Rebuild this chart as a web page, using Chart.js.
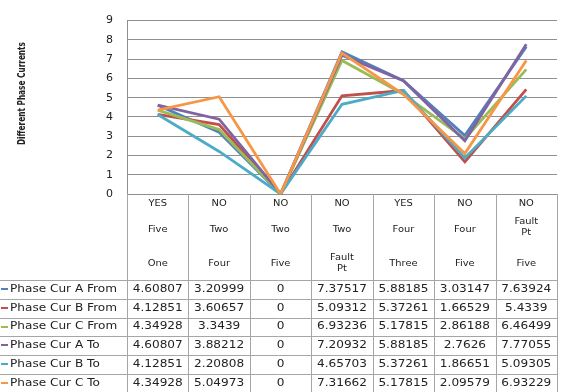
<!DOCTYPE html>
<html>
<head>
<meta charset="utf-8">
<script src="https://cdn.jsdelivr.net/npm/chart.js@4"></script>
<style>
  html, body { margin: 0; padding: 0; background: #ffffff; }
  #wrap { width: 570px; height: 392px; }
</style>
</head>
<body>
<div id="wrap"><canvas id="chart" width="570" height="392"></canvas></div>
<script>
// Category header lines (fault status, from bus, to bus)
const statusRow = ["YES", "NO", "NO", "NO", "YES", "NO", "NO"];
const fromRow   = ["Five", "Two", "Two", "Two", "Four", "Four", "Fault Pt"];
const toRow     = ["One", "Four", "Five", "Fault Pt", "Three", "Five", "Five"];

// Series
const seriesNames = [
  "Phase Cur A From", "Phase Cur B From", "Phase Cur C From",
  "Phase Cur A To", "Phase Cur B To", "Phase Cur C To"
];
const curAFrom = [4.60807, 3.20999, 0, 7.37517, 5.88185, 3.03147, 7.63924];
const curBFrom = [4.12851, 3.60657, 0, 5.09312, 5.37261, 1.66529, 5.4339];
const curCFrom = [4.34928, 3.3439, 0, 6.93236, 5.17815, 2.86188, 6.46499];
const curATo   = [4.60807, 3.88212, 0, 7.20932, 5.88185, 2.7626, 7.77055];
const curBTo   = [4.12851, 2.20808, 0, 4.65703, 5.37261, 1.86651, 5.09305];
const curCTo   = [4.34928, 5.04973, 0, 7.31662, 5.17815, 2.09579, 6.93229];

// Y axis
const yTicks = [0, 1, 2, 3, 4, 5, 6, 7, 8, 9];
const yTitle = "Different Phase Currents";

const seriesValues = [curAFrom, curBFrom, curCFrom, curATo, curBTo, curCTo];
const seriesColors = ["#4F81BD", "#C0504D", "#9BBB59", "#8064A2", "#4BACC6", "#F79646"];

const labels = statusRow.map((s, i) => [s, fromRow[i], toRow[i]]);

const GRID = "#8f8f8f";
const TABLE_LINE = "#a6a6a6";
const TEXT = "#222222";
const STRETCH = 1.1;

function stretchedText(ctx, text, x, y, font, align) {
  ctx.save();
  ctx.font = font;
  ctx.textBaseline = "middle";
  const w = ctx.measureText(text).width * STRETCH;
  let left = x;
  if (align === "center") left = x - w / 2;
  ctx.translate(left, y);
  ctx.scale(STRETCH, 1);
  ctx.textAlign = "left";
  ctx.fillText(text, 0, 0);
  ctx.restore();
}

// Draws the data table under the plot and the rotated axis title
const dataTable = {
  id: "dataTable",
  afterDraw(chart) {
    const ctx = chart.ctx;
    const area = chart.chartArea;
    const xs = chart.scales.x;
    const n = labels.length;
    const colW = (area.right - area.left) / n;
    const top = area.bottom;
    const headBottom = top + 86;
    const rowH = 18.8;
    const bottom = headBottom + rowH * seriesNames.length;

    ctx.save();
    ctx.strokeStyle = TABLE_LINE;
    ctx.lineWidth = 1;
    // vertical column dividers
    for (let k = 0; k <= n; k++) {
      const x = Math.round(area.left + k * colW) + 0.5;
      ctx.beginPath();
      ctx.moveTo(x, top);
      ctx.lineTo(x, bottom);
      ctx.stroke();
    }
    // horizontal row dividers
    for (let r = 0; r <= seriesNames.length; r++) {
      const y = Math.round(headBottom + r * rowH) + 0.5;
      ctx.beginPath();
      ctx.moveTo(0, y);
      ctx.lineTo(area.right, y);
      ctx.stroke();
    }

    // header text
    ctx.fillStyle = TEXT;
    const hFont = "9px 'DejaVu Sans', sans-serif";
    const lineY = [top + 10, top + 36, top + 70];
    const rowsText = [statusRow, fromRow, toRow];
    for (let i = 0; i < n; i++) {
      const cx = xs.getPixelForValue(i);
      rowsText.forEach((row, li) => {
        const words = row[i].split(" ");
        if (words.length > 1 && li > 0) {
          const mid = lineY[li] + (li === 1 ? -8 : -6);
          words.forEach((w, wi) => stretchedText(ctx, w, cx, mid + wi * 11, hFont, "center"));
        } else {
          stretchedText(ctx, row[i], cx, lineY[li], hFont, "center");
        }
      });
    }

    // data rows
    const bFont = "11px 'DejaVu Sans', sans-serif";
    seriesNames.forEach((name, r) => {
      const cy = headBottom + r * rowH + rowH / 2 - 0.5;
      ctx.fillStyle = seriesColors[r];
      ctx.fillRect(1, Math.round(cy) - 1, 7, 2);
      ctx.fillStyle = TEXT;
      stretchedText(ctx, name, 10, cy, bFont, "left");
      seriesValues[r].forEach((v, i) => {
        stretchedText(ctx, String(v), xs.getPixelForValue(i), cy, bFont, "center");
      });
    });

    // y axis title, condensed to a fixed run length
    ctx.translate(22, 93.5);
    ctx.rotate(-Math.PI / 2);
    ctx.font = "bold 10px 'DejaVu Sans Condensed', 'DejaVu Sans', sans-serif";
    const tw = ctx.measureText(yTitle).width;
    ctx.scale(103 / tw, 1);
    ctx.textAlign = "center";
    ctx.textBaseline = "middle";
    ctx.fillStyle = TEXT;
    ctx.fillText(yTitle, 0, 0);
    ctx.restore();
  }
};

new Chart(document.getElementById("chart"), {
  type: "line",
  data: {
    labels: labels,
    datasets: seriesNames.map((name, i) => ({
      label: name,
      data: seriesValues[i],
      borderColor: seriesColors[i],
      backgroundColor: seriesColors[i],
      borderWidth: 2.8,
      pointRadius: 0,
      tension: 0,
      fill: false,
      order: seriesNames.length - i
    }))
  },
  options: {
    responsive: false,
    animation: false,
    devicePixelRatio: 1,
    layout: { padding: { left: 0, top: 14, right: 13, bottom: 198 } },
    plugins: { legend: { display: false }, tooltip: { enabled: false } },
    scales: {
      x: { display: false, offset: true },
      y: {
        min: yTicks[0],
        max: yTicks[yTicks.length - 1],
        afterBuildTicks(scale) { scale.ticks = yTicks.map(v => ({ value: v })); },
        afterFit(scale) { scale.width = 127; },
        grid: { color: GRID, lineWidth: 1, drawTicks: false },
        border: { display: true, color: GRID },
        ticks: {
          padding: 14,
          color: TEXT,
          font: { family: "'DejaVu Sans', sans-serif", size: 11 }
        }
      }
    }
  },
  plugins: [dataTable]
});
</script>
</body>
</html>
